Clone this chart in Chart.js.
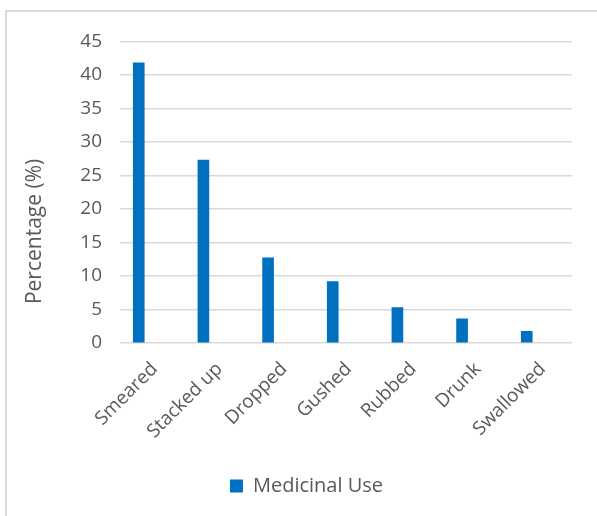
<!DOCTYPE html>
<html lang="en">

<head>
    <meta charset="UTF-8">
    <title>Medicinal Use</title>
    <script src="https://cdn.jsdelivr.net/npm/chart.js"></script>
    <style>
        body {
            margin: 0;
            background: #ffffff;
        }

        #box {
            position: absolute;
            left: 5px;
            top: 10px;
            width: 592px;
            height: 506px;
            border-left: 2px solid #d9d9d9;
            border-top: 2px solid #d9d9d9;
        }
    </style>
</head>

<body>
    <div id="box">
        <canvas id="useChart" width="590" height="504"></canvas>
    </div>
    <script>
        const categories = ['Smeared', 'Stacked up', 'Dropped', 'Gushed', 'Rubbed', 'Drunk', 'Swallowed'];
        const percentages = [41.8, 27.3, 12.7, 9.15, 5.3, 3.6, 1.75];
        const yTicks = [0, 5, 10, 15, 20, 25, 30, 35, 40, 45];
        const yTitle = 'Percentage (%)';

        const textColor = '#595959';
        const font = "'Open Sans', sans-serif";

        // excel places the axis title a bit below the plot centre,
        // and centres the legend on the whole chart box
        const excelLayout = {
            id: 'excelLayout',
            afterLayout(chart) {
                chart.legend.left += 17;
                chart.legend.right += 17;
            },
            afterDraw(chart) {
                const area = chart.chartArea;
                const c = chart.ctx;
                c.save();
                c.translate(28, area.top + area.height * 0.63);
                c.rotate(-Math.PI / 2);
                c.fillStyle = textColor;
                c.font = "21px 'Open Sans', sans-serif";
                c.textAlign = 'center';
                c.textBaseline = 'middle';
                c.fillText(yTitle, 0, 0);
                c.restore();
            }
        };

        const ctx = document.getElementById('useChart').getContext('2d');

        new Chart(ctx, {
            type: 'bar',
            data: {
                datasets: [
                    {
                        label: 'Medicinal Use',
                        data: percentages.map((v, i) => ({ x: i, y: v })),
                        backgroundColor: '#0070c0',
                        barThickness: 11
                    }
                ]
            },
            options: {
                responsive: false,
                animation: false,
                layout: {
                    padding: { top: 27, right: 25, bottom: 10, left: 0 }
                },
                scales: {
                    x: {
                        type: 'linear',
                        offset: false,
                        min: -0.29,
                        max: 6.7,
                        grid: { display: false, offset: false },
                        border: { display: false },
                        afterBuildTicks: scale => {
                            scale.ticks = categories.map((_, i) => ({ value: i }));
                        },
                        afterFit: scale => {
                            scale.height = 123;
                        },
                        ticks: {
                            autoSkip: false,
                            minRotation: 45,
                            maxRotation: 45,
                            labelOffset: 16,
                            padding: 7,
                            color: textColor,
                            font: { family: font, size: 19 },
                            callback: v => categories[v]
                        }
                    },
                    y: {
                        min: 0,
                        max: 45,
                        afterBuildTicks: scale => {
                            scale.ticks = yTicks.map(v => ({ value: v }));
                        },
                        afterFit: scale => {
                            scale.width = 113;
                        },
                        grid: {
                            color: '#d9d9d9',
                            lineWidth: 1.5,
                            drawTicks: false
                        },
                        border: { display: false },
                        ticks: {
                            padding: 18,
                            color: textColor,
                            font: { family: font, size: 19 }
                        }
                    }
                },
                plugins: {
                    legend: {
                        position: 'bottom',
                        labels: {
                            boxWidth: 13,
                            boxHeight: 13,
                            padding: 10,
                            color: textColor,
                            font: { family: font, size: 20 }
                        }
                    },
                    tooltip: { enabled: false }
                }
            },
            plugins: [excelLayout]
        });
    </script>
</body>

</html>
